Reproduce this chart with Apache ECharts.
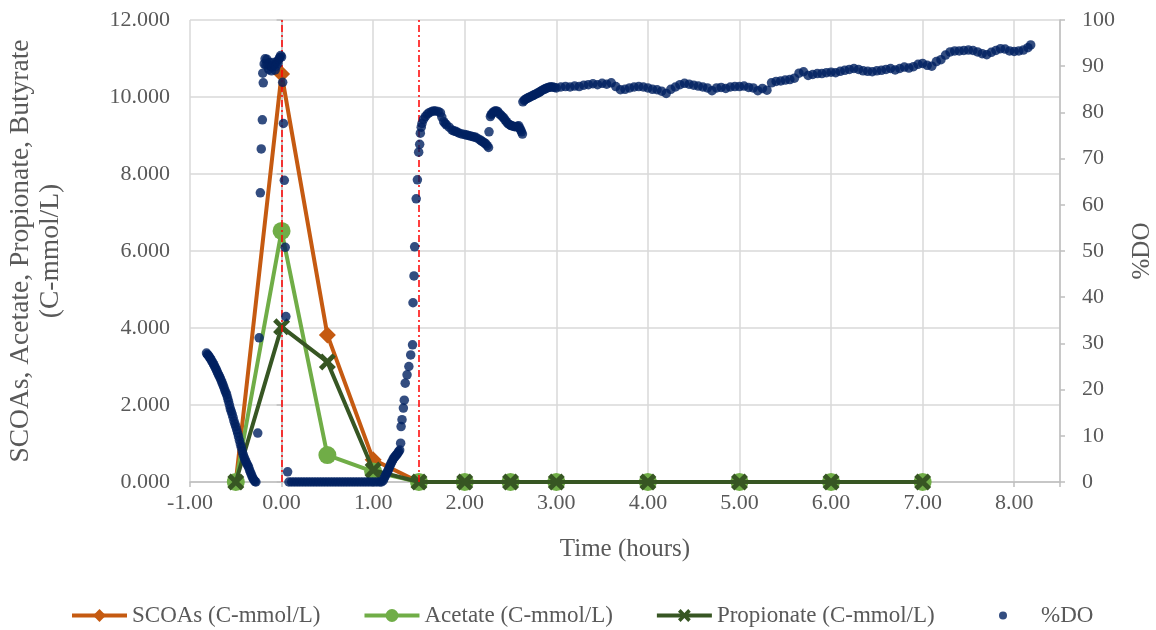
<!DOCTYPE html>
<html>
<head>
<meta charset="utf-8">
<script src="https://cdn.jsdelivr.net/npm/echarts@6/dist/echarts.min.js"></script>
<style>
html,body{margin:0;padding:0;background:#fff;}
#chart{width:1156px;height:630px;}
</style>
</head>
<body>
<div id="chart"></div>
<script>
// ---- data ----
const sampleTimes = [-0.5, 0, 0.5, 1, 1.5, 2, 2.5, 3, 4, 5, 6, 7];
const scoas      = [0, 10.6, 3.82, 0.58, 0, 0, 0, 0, 0, 0, 0, 0];
const acetate    = [0, 6.52, 0.70, 0.27, 0, 0, 0, 0, 0, 0, 0, 0];
const propionate = [0, 4.03, 3.12, 0.31, 0, 0, 0, 0, 0, 0, 0, 0];
const markTimes  = [0, 1.5];
// %DO readings: [time (h), %DO]
const doData = [
[-0.82,27.9],[-0.81,27.6],[-0.80,27.4],[-0.79,27.1],[-0.78,26.8],[-0.77,26.5],[-0.76,26.1],[-0.75,25.8],
[-0.74,25.4],[-0.73,25.0],[-0.72,24.6],[-0.71,24.2],[-0.70,23.7],[-0.69,23.3],[-0.68,22.9],[-0.67,22.5],
[-0.66,22.0],[-0.65,21.5],[-0.64,21.0],[-0.63,20.5],[-0.62,19.9],[-0.61,19.4],[-0.60,18.9],[-0.59,18.2],
[-0.58,17.5],[-0.57,16.7],[-0.56,15.9],[-0.55,15.3],[-0.54,14.7],[-0.53,14.0],[-0.52,13.2],[-0.51,12.6],
[-0.50,12.0],[-0.49,11.3],[-0.48,10.6],[-0.47,9.8],[-0.46,9.0],[-0.45,8.2],[-0.44,7.5],[-0.43,6.7],
[-0.42,6.0],[-0.41,5.4],[-0.40,4.9],[-0.39,4.4],[-0.38,4.0],[-0.37,3.6],[-0.36,3.2],[-0.35,2.6],
[-0.34,2.1],[-0.33,1.6],[-0.32,1.1],[-0.31,0.7],[-0.30,0.4],[-0.29,0.1],[-0.28,0.0],
[-0.26,10.6],[-0.245,31.2],[-0.232,62.6],[-0.222,72.1],[-0.21,78.4],[-0.20,86.4],
[-0.205,88.5],[-0.19,90.5],[-0.18,91.6],[-0.17,90.2],[-0.16,91.5],[-0.15,90.3],[-0.14,89.3],[-0.13,90.8],
[-0.12,90.0],[-0.11,89.0],[-0.10,89.8],[-0.09,90.8],[-0.08,90.3],[-0.07,89.2],[-0.06,90.0],[-0.05,91.0],
[-0.04,90.6],[-0.03,91.5],[-0.02,91.9],[-0.01,92.3],[0.00,92.0],
[0.012,86.5],[0.02,77.6],[0.03,65.3],[0.04,50.8],[0.047,35.8],[0.066,2.2],
[0.08,0],[0.11,0],[0.14,0],[0.17,0],[0.20,0],[0.23,0],[0.26,0],[0.29,0],[0.32,0],[0.35,0],[0.38,0],
[0.41,0],[0.44,0],[0.47,0],[0.50,0],[0.53,0],[0.56,0],[0.59,0],[0.62,0],[0.65,0],[0.68,0],[0.71,0],
[0.74,0],[0.77,0],[0.80,0],[0.83,0],[0.86,0],[0.89,0],[0.92,0],[0.95,0],[0.98,0],[1.01,0],[1.04,0],
[1.07,0],[1.09,0],
[1.11,0.3],[1.12,0.8],[1.13,1.2],[1.14,1.6],[1.15,2.0],[1.16,2.4],[1.17,2.8],[1.18,3.3],[1.19,3.8],
[1.20,4.2],[1.21,4.6],[1.22,5.0],[1.23,5.3],[1.24,5.5],[1.25,5.8],[1.26,6.0],[1.27,6.3],[1.28,6.6],
[1.29,6.9],[1.30,8.4],[1.305,12.0],[1.315,13.5],[1.33,16.0],[1.34,17.7],[1.35,21.4],[1.37,23.2],
[1.39,25.0],[1.41,27.5],[1.43,29.7],[1.435,38.8],[1.446,44.6],[1.453,50.9],[1.47,61.3],[1.483,65.4],
[1.497,71.4],[1.508,73.1],[1.515,75.5],[1.525,76.8],[1.533,77.6],[1.55,78.5],[1.57,79.1],[1.59,79.6],
[1.61,79.9],[1.64,80.2],[1.66,80.3],[1.68,80.3],[1.71,80.2],[1.735,79.9],[1.75,79.0],[1.77,78.0],
[1.785,77.6],[1.80,77.3],[1.83,76.8],[1.86,76.2],[1.88,76.0],[1.90,75.9],[1.92,75.7],[1.94,75.5],
[1.97,75.3],[2.00,75.2],[2.02,75.1],[2.04,75.0],[2.06,74.9],[2.08,74.8],[2.10,74.7],[2.12,74.6],
[2.145,74.3],[2.17,74.0],[2.185,73.8],[2.20,73.6],[2.215,73.4],[2.23,73.2],[2.245,72.8],[2.26,72.4],
[2.265,75.8],[2.28,79.1],[2.29,79.5],[2.30,79.8],[2.315,80.1],[2.33,80.3],[2.345,80.3],[2.36,80.2],
[2.38,79.7],[2.395,79.4],[2.41,79.1],[2.425,78.8],[2.44,78.4],[2.455,78.0],[2.47,77.6],[2.485,77.4],
[2.50,77.2],[2.515,77.1],[2.53,77.0],[2.545,76.9],[2.56,76.9],[2.575,77.0],[2.59,77.1],[2.60,76.6],
[2.61,76.2],[2.62,75.8],[2.63,75.3],
[2.635,82.3],[2.65,82.6],[2.66,82.8],[2.675,83.0],[2.69,83.1],[2.705,83.3],[2.72,83.4],[2.735,83.6],
[2.75,83.7],[2.765,83.9],[2.78,84.0],[2.795,84.2],[2.81,84.3],[2.825,84.5],[2.84,84.7],[2.855,84.9],
[2.87,85.0],[2.885,85.2],[2.90,85.3],[2.915,85.4],[2.93,85.5],[2.945,85.5],[2.96,85.5],[2.98,85.4],
[3.00,85.3],[3.05,85.5],[3.10,85.6],[3.15,85.5],[3.20,85.7],[3.25,85.6],[3.30,85.9],[3.35,86.0],
[3.40,86.2],[3.45,86.0],[3.50,86.3],[3.55,86.1],[3.60,86.4],[3.65,85.6],[3.70,84.9],[3.75,85.0],
[3.80,85.3],[3.85,85.5],[3.90,85.6],[3.95,85.5],[4.00,85.3],[4.05,85.0],[4.10,84.9],[4.15,84.6],
[4.20,84.1],[4.25,85.0],[4.30,85.5],[4.35,86.0],[4.40,86.3],[4.45,86.1],[4.50,85.9],[4.55,85.7],
[4.60,85.5],[4.65,85.3],[4.70,84.7],[4.75,85.3],[4.80,85.4],[4.85,85.2],[4.90,85.5],[4.95,85.6],
[5.00,85.6],[5.05,85.7],[5.10,85.4],[5.15,85.3],[5.20,84.7],[5.25,85.2],[5.30,84.8],[5.35,86.4],
[5.40,86.7],[5.45,86.8],[5.50,87.0],[5.55,87.1],[5.60,87.4],[5.65,88.5],[5.70,88.8],[5.75,88.0],
[5.80,88.2],[5.85,88.4],[5.90,88.4],[5.95,88.6],[6.00,88.7],[6.05,88.6],[6.10,88.9],[6.15,89.1],
[6.20,89.3],[6.25,89.5],[6.30,89.3],[6.35,89.0],[6.40,88.9],[6.45,88.8],[6.50,89.0],[6.55,89.1],
[6.60,89.3],[6.65,89.5],[6.70,89.2],[6.75,89.5],[6.80,89.8],[6.85,89.6],[6.90,89.9],[6.95,90.4],
[7.00,90.6],[7.05,90.2],[7.10,90.0],[7.15,91.0],[7.20,91.4],[7.25,92.4],[7.30,93.1],[7.35,93.3],
[7.40,93.3],[7.45,93.4],[7.50,93.5],[7.55,93.4],[7.60,93.1],[7.65,92.7],[7.70,92.5],[7.75,93.0],
[7.80,93.4],[7.85,93.8],[7.90,93.7],[7.95,93.3],[8.00,93.2],[8.05,93.3],[8.10,93.5],[8.15,94.0],
[8.18,94.6]
];

// ---- chart ----
const FONT = 'Liberation Serif';
const GRAY = '#595959';
const zip = (xs, ys) => xs.map((x, i) => [x, ys[i]]);
const XSYM = 'path://M0,2 L2,0 L5,3 L8,0 L10,2 L7,5 L10,8 L8,10 L5,7 L2,10 L0,8 L3,5 Z';
const legendText = {fontFamily: FONT, fontSize: 23, color: GRAY};

const chart = echarts.init(document.getElementById('chart'), null, {renderer: 'canvas'});
chart.setOption({
  animation: false,
  backgroundColor: '#ffffff',
  textStyle: {fontFamily: FONT, color: GRAY},
  grid: {left: 190, right: 96, top: 20, bottom: 148, containLabel: false, outerBoundsMode: 'none'},
  xAxis: {
    type: 'value', min: -1, max: 8.5, interval: 1,
    name: 'Time (hours)', nameLocation: 'middle', nameGap: 55,
    nameTextStyle: {fontFamily: FONT, fontSize: 25, color: GRAY},
    axisLine: {show: true, onZero: false, lineStyle: {color: '#bfbfbf', width: 1.5}},
    axisTick: {show: true, length: 5, lineStyle: {color: '#bfbfbf', width: 1.5}},
    axisLabel: {fontFamily: FONT, fontSize: 22, color: GRAY, margin: 10,
      formatter: v => Number.isInteger(Math.round(v * 1000) / 1000) ? v.toFixed(2) : ''},
    splitLine: {show: true, lineStyle: {color: '#d9d9d9', width: 1.5}}
  },
  yAxis: [{
    type: 'value', min: 0, max: 12, interval: 2,
    name: 'SCOAs, Acetate, Propionate, Butyrate\n(C-mmol/L)',
    nameLocation: 'middle', nameGap: 124,
    nameTextStyle: {fontFamily: FONT, fontSize: 27.5, color: GRAY, lineHeight: 30, align: 'center'},
    axisLine: {show: true, lineStyle: {color: '#bfbfbf', width: 1.5}},
    axisTick: {show: true, length: 5, lineStyle: {color: '#bfbfbf', width: 1.5}},
    axisLabel: {fontFamily: FONT, fontSize: 22, color: GRAY, margin: 20, formatter: v => v.toFixed(3)},
    splitLine: {show: true, lineStyle: {color: '#d9d9d9', width: 1.5}}
  }, {
    type: 'value', min: 0, max: 100, interval: 10,
    name: '%DO', nameLocation: 'middle', nameGap: 70,
    nameTextStyle: {fontFamily: FONT, fontSize: 25, color: GRAY},
    axisLine: {show: true, lineStyle: {color: '#bfbfbf', width: 1.5}},
    axisTick: {show: true, length: 5, lineStyle: {color: '#bfbfbf', width: 1.5}},
    axisLabel: {fontFamily: FONT, fontSize: 22, color: GRAY, margin: 22},
    splitLine: {show: false}
  }],
  legend: [{
    left: 70, bottom: 3, padding: 0, itemWidth: 55, itemHeight: 16, itemGap: 42,
    textStyle: legendText,
    lineStyle: {width: 4},
    data: [
      {name: 'SCOAs (C-mmol/L)', textStyle: legendText},
      {name: 'Acetate (C-mmol/L)', textStyle: legendText},
      {name: 'Propionate (C-mmol/L)', textStyle: legendText}
    ]
  }, {
    left: 999, bottom: 3, padding: 0, itemWidth: 66, itemHeight: 8,
    textStyle: legendText,
    data: [{name: '%DO', icon: 'circle', textStyle: legendText}]
  }],
  series: [{
    name: 'SCOAs (C-mmol/L)', type: 'line', data: zip(sampleTimes, scoas),
    symbol: 'diamond', symbolSize: 17, showSymbol: true, showAllSymbol: true,
    lineStyle: {color: '#C55A11', width: 4}, itemStyle: {color: '#C55A11'}, z: 2,
    markLine: {
      silent: true, symbol: ['none', 'none'], label: {show: false},
      lineStyle: {color: '#FF0000', width: 1.5, type: [7, 3, 2, 3]},
      data: markTimes.map(t => ({xAxis: t}))
    }
  }, {
    name: 'Acetate (C-mmol/L)', type: 'line', data: zip(sampleTimes, acetate),
    symbol: 'circle', symbolSize: 18, showSymbol: true, showAllSymbol: true,
    lineStyle: {color: '#70AD47', width: 4}, itemStyle: {color: '#70AD47'}, z: 3
  }, {
    name: 'Propionate (C-mmol/L)', type: 'line', data: zip(sampleTimes, propionate),
    symbol: XSYM, symbolSize: 17, showSymbol: true, showAllSymbol: true,
    lineStyle: {color: '#375623', width: 4}, itemStyle: {color: '#375623'}, z: 4
  }, {
    name: '%DO', type: 'scatter', yAxisIndex: 1, data: doData,
    symbol: 'circle', symbolSize: 9.5, itemStyle: {color: '#002060'}, z: 5
  }]
});
</script>
</body>
</html>
